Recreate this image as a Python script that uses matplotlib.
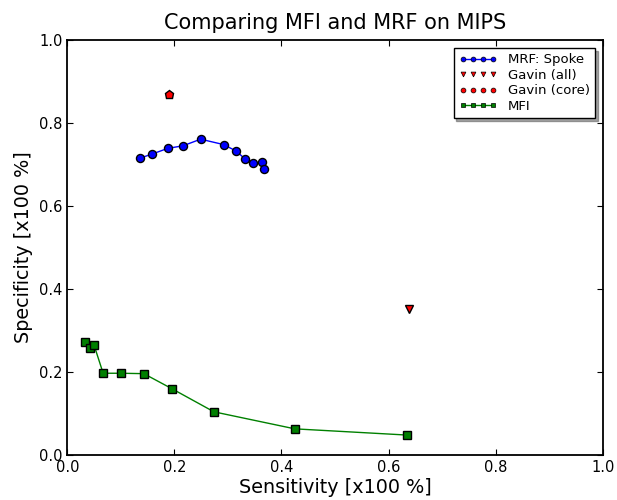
import matplotlib
matplotlib.use("Agg")
import matplotlib.pyplot as plt
from matplotlib.lines import Line2D

# MRF: Spoke
mrf_sens = [0.135, 0.158, 0.188, 0.216, 0.249, 0.292, 0.316, 0.332, 0.346, 0.363, 0.367]
mrf_spec = [0.715, 0.725, 0.739, 0.745, 0.761, 0.748, 0.732, 0.713, 0.704, 0.705, 0.688]

# Gavin
gavin_all_sens = [0.638]
gavin_all_spec = [0.353]
gavin_core_sens = [0.190]
gavin_core_spec = [0.870]

# MFI
mfi_sens = [0.033, 0.042, 0.050, 0.067, 0.100, 0.143, 0.195, 0.274, 0.425, 0.635]
mfi_spec = [0.273, 0.258, 0.265, 0.197, 0.197, 0.196, 0.160, 0.104, 0.063, 0.048]

plt.rcParams["xtick.direction"] = "in"
plt.rcParams["ytick.direction"] = "in"
plt.rcParams["xtick.top"] = True
plt.rcParams["ytick.right"] = True
plt.rcParams["xtick.major.size"] = 4
plt.rcParams["ytick.major.size"] = 4

fig = plt.figure(figsize=(6.17, 5), dpi=100)
ax = fig.add_axes([0.109, 0.09, 0.868, 0.83])

ax.plot(mrf_sens, mrf_spec, "o-", color="#0000ff", mfc="#0000ff", mec="black",
        ms=5.8, lw=1, label="MRF: Spoke")
ax.plot(gavin_all_sens, gavin_all_spec, "v", color="red", mec="black", ms=5.8,
        label="Gavin (all)")
ax.plot(gavin_core_sens, gavin_core_spec, "p", color="red", mec="black", ms=6.4,
        label="Gavin (core)")
ax.plot(mfi_sens, mfi_spec, "s-", color="#008000", mfc="#007f00", mec="black",
        ms=5.8, lw=1, label="MFI")

handles, labels = ax.get_legend_handles_labels()
handles[2] = Line2D([], [], marker="o", color="red", mec="black", ls="none", ms=5.8)
leg = ax.legend(handles, labels, loc="upper right", numpoints=4, markerscale=0.6,
                fontsize=9.5, shadow=True, fancybox=False, handlelength=2.9,
                borderaxespad=0.6, labelspacing=0.2, handletextpad=0.8)
leg.get_frame().set_edgecolor("black")
leg.get_frame().set_linewidth(1)
for ln in leg.get_lines():
    ln.set_markeredgewidth(0.5)

ax.set_xlim(0, 1)
ax.set_ylim(0, 1)
ax.set_xticks([0.0, 0.2, 0.4, 0.6, 0.8, 1.0])
ax.set_yticks([0.0, 0.2, 0.4, 0.6, 0.8, 1.0])
ax.tick_params(labelsize=10.5)
for s in ax.spines.values():
    s.set_linewidth(1.3)

ax.set_xlabel("Sensitivity [x100 %]", fontsize=13.8, labelpad=2)
ax.set_ylabel("Specificity [x100 %]", fontsize=13.8, labelpad=4)
ax.set_title("Comparing MFI and MRF on MIPS", fontsize=15, pad=8)

plt.savefig("out.png")
